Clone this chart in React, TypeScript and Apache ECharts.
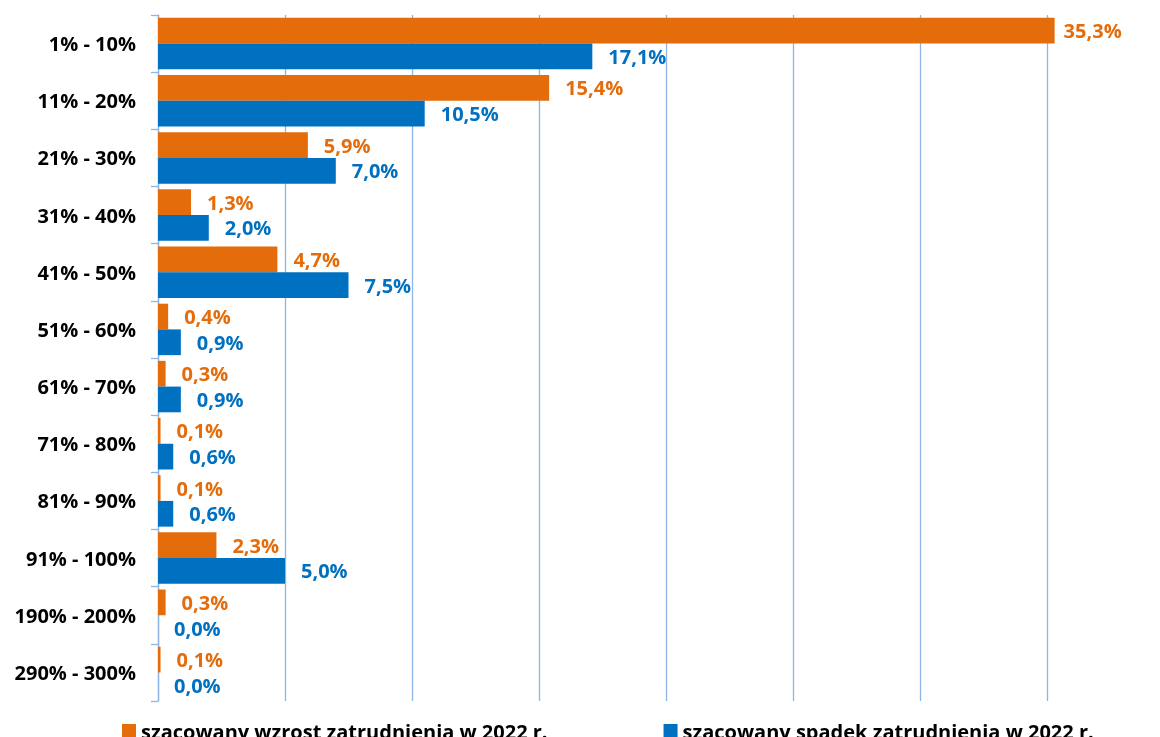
import React, { useEffect, useRef } from "react";
import * as echarts from "echarts";

const categories = [
  "1% - 10%",
  "11% - 20%",
  "21% - 30%",
  "31% - 40%",
  "41% - 50%",
  "51% - 60%",
  "61% - 70%",
  "71% - 80%",
  "81% - 90%",
  "91% - 100%",
  "190% - 200%",
  "290% - 300%",
];
const wzrost = [35.3, 15.4, 5.9, 1.3, 4.7, 0.4, 0.3, 0.1, 0.1, 2.3, 0.3, 0.1];
const spadek = [17.1, 10.5, 7.0, 2.0, 7.5, 0.9, 0.9, 0.6, 0.6, 5.0, 0.0, 0.0];
const seriesNames = [
  "szacowany wzrost zatrudnienia w 2022 r.",
  "szacowany spadek zatrudnienia w 2022 r.",
];

const ORANGE = "#E46C0A";
const BLUE = "#0070C0";
const GRID = "#8FB4E6";
const FONT = "Open Sans";

const fmt = (p: any) => Number(p.value).toFixed(1).replace(".", ",") + "%";

export default function App() {
  const ref = useRef<HTMLDivElement>(null);
  useEffect(() => {
    if (!ref.current) return;
    const chart = echarts.init(ref.current, null, { renderer: "svg" });
    const labelBase = (color: string) => ({
      show: true,
      position: "right" as const,
      distance: 16,
      color,
      fontFamily: FONT,
      fontWeight: "bold" as const,
      fontSize: 20,
      formatter: fmt,
    });
    chart.setOption({
      animation: false,
      grid: { left: 158, top: 15, width: 889, height: 686, containLabel: false },
      legend: {
        left: 122,
        top: 721,
        padding: 0,
        itemWidth: 14,
        itemHeight: 14,
        itemGap: 116,
        icon: "rect",
        textStyle: {
          fontFamily: FONT,
          fontWeight: "bold",
          fontSize: 20,
          color: "#000",
        },
        data: seriesNames,
      },
      xAxis: {
        type: "value",
        min: 0,
        max: 35,
        interval: 5,
        axisLine: { show: false },
        axisTick: { show: false },
        axisLabel: { show: false },
        splitLine: { show: true, lineStyle: { color: GRID, width: 1.3 } },
      },
      yAxis: {
        type: "category",
        inverse: true,
        data: categories,
        axisLine: { show: true, lineStyle: { color: GRID, width: 1.3 } },
        axisTick: { show: true, length: 7, lineStyle: { color: GRID, width: 1.3 } },
        axisLabel: {
          margin: 22,
          color: "#000",
          fontFamily: FONT,
          fontWeight: "bold",
          fontSize: 20,
        },
      },
      series: [
        {
          name: seriesNames[0],
          type: "bar",
          clip: false,
          barCategoryGap: "10%",
          barGap: "0%",
          itemStyle: { color: ORANGE },
          label: labelBase(ORANGE),
          data: wzrost.map((v, i) =>
            i === 0 ? { value: v, label: { distance: 9 } } : v
          ),
        },
        {
          name: seriesNames[1],
          type: "bar",
          clip: false,
          barCategoryGap: "10%",
          barGap: "0%",
          itemStyle: { color: BLUE },
          label: labelBase(BLUE),
          data: spadek,
        },
      ],
    });
    return () => chart.dispose();
  }, []);
  return (
    <div
      ref={ref}
      style={{ position: "fixed", left: 0, top: 0, width: 1160, height: 737 }}
    />
  );
}
